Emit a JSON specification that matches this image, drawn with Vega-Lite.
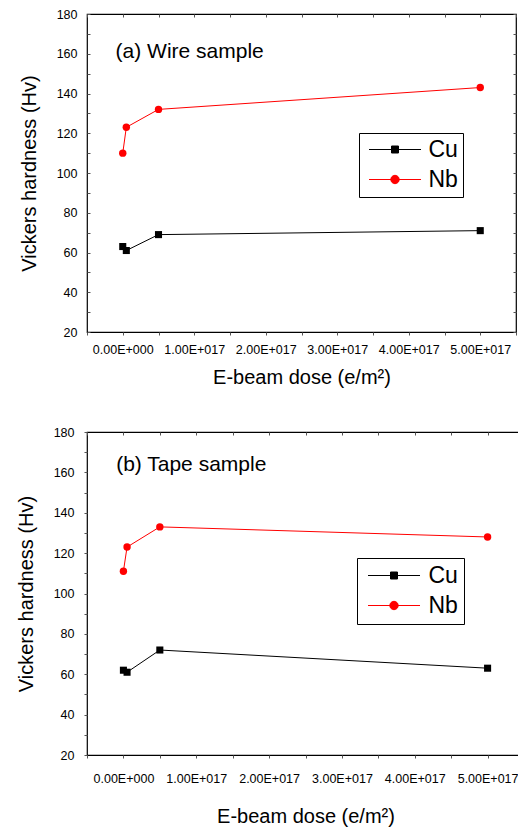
{
  "$schema": "https://vega.github.io/schema/vega-lite/v6.json",
  "padding": {"left": 15, "top": 7, "right": 0, "bottom": 0},
  "background": "white",
  "config": {
    "font": "Liberation Sans",
    "view": {"stroke": "black", "strokeWidth": 1.2},
    "axis": {
      "labelFont": "Liberation Sans", "titleFont": "Liberation Sans",
      "labelColor": "black", "titleColor": "black",
      "labelFontSize": 12.5, "titleFontSize": 20, "titleFontWeight": "normal",
      "tickColor": "#555", "domain": false, "grid": false,
      "labelFlush": false, "labelOverlap": false, "labelBound": false
    }
  },
  "datasets": {
    "a": [
      {"metal": "Cu", "dose": 0, "hv": 63},
      {"metal": "Cu", "dose": 5e15, "hv": 61},
      {"metal": "Cu", "dose": 5e16, "hv": 69},
      {"metal": "Cu", "dose": 5e17, "hv": 71},
      {"metal": "Nb", "dose": 0, "hv": 110},
      {"metal": "Nb", "dose": 5e15, "hv": 123},
      {"metal": "Nb", "dose": 5e16, "hv": 132},
      {"metal": "Nb", "dose": 5e17, "hv": 143}
    ],
    "b": [
      {"metal": "Cu", "dose": 0, "hv": 62},
      {"metal": "Cu", "dose": 5e15, "hv": 61},
      {"metal": "Cu", "dose": 5e16, "hv": 72},
      {"metal": "Cu", "dose": 5e17, "hv": 63},
      {"metal": "Nb", "dose": 0, "hv": 111},
      {"metal": "Nb", "dose": 5e15, "hv": 123},
      {"metal": "Nb", "dose": 5e16, "hv": 133},
      {"metal": "Nb", "dose": 5e17, "hv": 128}
    ],
    "la": [{"label": "(a) Wire sample", "dose": -1e16, "hv": 158}],
    "lb": [{"label": "(b) Tape sample", "dose": -1e16, "hv": 160.5}]
  },
  "spacing": 36,
  "resolve": {"legend": {"color": "independent"}, "scale": {"x": "independent", "y": "independent", "color": "independent"}},
  "vconcat": [
    {
      "width": 429, "height": 318,
      "resolve": {"axis": {"x": "independent", "y": "independent"}},
      "layer": [
        {
          "data": {"name": "a"},
          "transform": [{"filter": "datum.metal === 'Cu'"}],
          "mark": {"type": "line", "strokeWidth": 1, "color": "black"},
          "encoding": {
            "x": {"field": "dose", "type": "quantitative", "scale": {"domain": [-5e16, 5.5e17], "nice": false, "zero": false},
              "axis": {"orient": "bottom", "title": "E-beam dose (e/m²)", "values": [-5e16, 0, 5e16, 1e17, 1.5e17, 2e17, 2.5e17, 3e17, 3.5e17, 4e17, 4.5e17, 5e17, 5.5e17],
                "labelExpr": "datum.value === 0 ? '0.00E+000' : (datum.value % 1e17 === 0 ? format(datum.value / 1e17, '.2f') + 'E+017' : '')",
                "tickSize": 3, "labelPadding": 8, "titlePadding": 12}},
            "y": {"field": "hv", "type": "quantitative", "scale": {"domain": [20, 180], "nice": false, "zero": false},
              "axis": {"orient": "left", "title": "Vickers hardness (Hv)", "values": [20, 30, 40, 50, 60, 70, 80, 90, 100, 110, 120, 130, 140, 150, 160, 170, 180],
                "labelExpr": "datum.value % 20 === 0 ? datum.label : ''", "tickSize": -3, "labelPadding": 13, "titlePadding": 17}}
          }
        },
        {
          "data": {"name": "a"},
          "transform": [{"filter": "datum.metal === 'Nb'"}],
          "mark": {"type": "line", "strokeWidth": 1, "color": "red"},
          "encoding": {
            "x": {"field": "dose", "type": "quantitative", "axis": null},
            "y": {"field": "hv", "type": "quantitative", "axis": null}
          }
        },
        {
          "data": {"name": "a"},
          "transform": [{"filter": "datum.metal === 'Cu'"}],
          "mark": {"type": "point", "shape": "square", "filled": true, "opacity": 1, "size": 50},
          "encoding": {
            "x": {"field": "dose", "type": "quantitative", "axis": {"orient": "top", "title": null, "labels": false, "tickSize": -3, "values": [-5e16, 0, 5e16, 1e17, 1.5e17, 2e17, 2.5e17, 3e17, 3.5e17, 4e17, 4.5e17, 5e17, 5.5e17]}},
            "y": {"field": "hv", "type": "quantitative", "axis": {"orient": "right", "title": null, "labels": false, "tickSize": -3, "values": [20, 30, 40, 50, 60, 70, 80, 90, 100, 110, 120, 130, 140, 150, 160, 170, 180]}},
            "color": {"field": "metal", "type": "nominal", "scale": {"domain": ["Cu", "Nb"], "range": ["black", "red"]},
              "legend": {"orient": "none", "legendX": 272, "legendY": 119, "title": null, "strokeColor": "black", "padding": 5,
                "labelFontSize": 23, "labelFont": "Liberation Sans", "labelColor": "black", "symbolSize": 400, "symbolStrokeWidth": 1,
                "symbolOffset": 19.5, "labelOffset": 22, "rowPadding": 6,
                "symbolType": {"expr": "datum.value === 'Cu' ? 'M-2.6,0H2.6M-0.35,-0.35H0.35V0.35H-0.35Z' : 'M-2.6,0H2.6M0.42,0A0.42,0.42 0 1,1 -0.42,0A0.42,0.42 0 1,1 0.42,0Z'"},
                "symbolStrokeColor": {"expr": "datum.value === 'Cu' ? 'black' : 'red'"}}}
          }
        },
        {
          "data": {"name": "a"},
          "transform": [{"filter": "datum.metal === 'Nb'"}],
          "mark": {"type": "point", "shape": "circle", "filled": true, "opacity": 1, "size": 55, "color": "red"},
          "encoding": {
            "x": {"field": "dose", "type": "quantitative", "axis": null},
            "y": {"field": "hv", "type": "quantitative", "axis": null}
          }
        },
        {
          "data": {"name": "la"},
          "mark": {"type": "text", "align": "left", "baseline": "alphabetic", "fontSize": 21, "font": "Liberation Sans", "color": "black"},
          "encoding": {
            "x": {"field": "dose", "type": "quantitative", "axis": null},
            "y": {"field": "hv", "type": "quantitative", "axis": null},
            "text": {"field": "label"}
          }
        }
      ]
    },
    {
      "width": 437, "height": 323,
      "resolve": {"axis": {"x": "independent", "y": "independent"}},
      "layer": [
        {
          "data": {"name": "b"},
          "transform": [{"filter": "datum.metal === 'Cu'"}],
          "mark": {"type": "line", "strokeWidth": 1, "color": "black"},
          "encoding": {
            "x": {"field": "dose", "type": "quantitative", "scale": {"domain": [-5e16, 5.5e17], "nice": false, "zero": false},
              "axis": {"orient": "bottom", "title": "E-beam dose (e/m²)", "values": [-5e16, 0, 5e16, 1e17, 1.5e17, 2e17, 2.5e17, 3e17, 3.5e17, 4e17, 4.5e17, 5e17, 5.5e17],
                "labelExpr": "datum.value === 0 ? '0.00E+000' : (datum.value % 1e17 === 0 ? format(datum.value / 1e17, '.2f') + 'E+017' : '')",
                "tickSize": 3, "labelPadding": 14, "titlePadding": 22}},
            "y": {"field": "hv", "type": "quantitative", "scale": {"domain": [20, 180], "nice": false, "zero": false},
              "axis": {"orient": "left", "title": "Vickers hardness (Hv)", "values": [20, 30, 40, 50, 60, 70, 80, 90, 100, 110, 120, 130, 140, 150, 160, 170, 180],
                "labelExpr": "datum.value % 20 === 0 ? datum.label : ''", "tickSize": 3, "labelPadding": 10, "titlePadding": 17}}
          }
        },
        {
          "data": {"name": "b"},
          "transform": [{"filter": "datum.metal === 'Nb'"}],
          "mark": {"type": "line", "strokeWidth": 1, "color": "red"},
          "encoding": {
            "x": {"field": "dose", "type": "quantitative", "axis": null},
            "y": {"field": "hv", "type": "quantitative", "axis": null}
          }
        },
        {
          "data": {"name": "b"},
          "transform": [{"filter": "datum.metal === 'Cu'"}],
          "mark": {"type": "point", "shape": "square", "filled": true, "opacity": 1, "size": 50},
          "encoding": {
            "x": {"field": "dose", "type": "quantitative", "axis": {"orient": "top", "title": null, "labels": false, "tickSize": -3, "values": [-5e16, 0, 5e16, 1e17, 1.5e17, 2e17, 2.5e17, 3e17, 3.5e17, 4e17, 4.5e17, 5e17, 5.5e17]}},
            "y": {"field": "hv", "type": "quantitative", "axis": {"orient": "right", "title": null, "labels": false, "tickSize": -3, "values": [20, 30, 40, 50, 60, 70, 80, 90, 100, 110, 120, 130, 140, 150, 160, 170, 180]}},
            "color": {"field": "metal", "type": "nominal", "scale": {"domain": ["Cu", "Nb"], "range": ["black", "red"]},
              "legend": {"orient": "none", "legendX": 270, "legendY": 126, "title": null, "strokeColor": "black", "padding": 6,
                "labelFontSize": 23, "labelFont": "Liberation Sans", "labelColor": "black", "symbolSize": 400, "symbolStrokeWidth": 1,
                "symbolOffset": 19.5, "labelOffset": 23, "rowPadding": 6,
                "symbolType": {"expr": "datum.value === 'Cu' ? 'M-2.6,0H2.6M-0.35,-0.35H0.35V0.35H-0.35Z' : 'M-2.6,0H2.6M0.42,0A0.42,0.42 0 1,1 -0.42,0A0.42,0.42 0 1,1 0.42,0Z'"},
                "symbolStrokeColor": {"expr": "datum.value === 'Cu' ? 'black' : 'red'"}}}
          }
        },
        {
          "data": {"name": "b"},
          "transform": [{"filter": "datum.metal === 'Nb'"}],
          "mark": {"type": "point", "shape": "circle", "filled": true, "opacity": 1, "size": 55, "color": "red"},
          "encoding": {
            "x": {"field": "dose", "type": "quantitative", "axis": null},
            "y": {"field": "hv", "type": "quantitative", "axis": null}
          }
        },
        {
          "data": {"name": "lb"},
          "mark": {"type": "text", "align": "left", "baseline": "alphabetic", "fontSize": 21, "font": "Liberation Sans", "color": "black"},
          "encoding": {
            "x": {"field": "dose", "type": "quantitative", "axis": null},
            "y": {"field": "hv", "type": "quantitative", "axis": null},
            "text": {"field": "label"}
          }
        }
      ]
    }
  ]
}
